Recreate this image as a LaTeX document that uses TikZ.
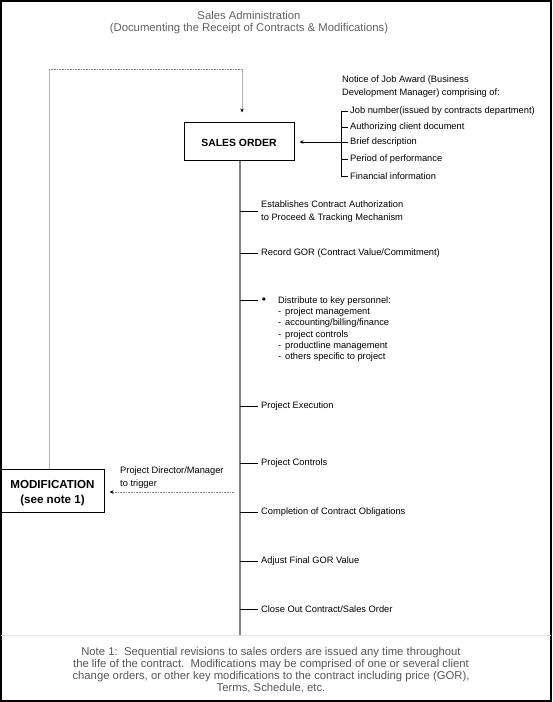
\documentclass[tikz,border=0pt]{standalone}
\usepackage{fontspec}
\setmainfont{Liberation Sans}
\usetikzlibrary{arrows.meta}
\definecolor{titlegray}{HTML}{606060}
\definecolor{notegray}{HTML}{555555}
\definecolor{spinegray}{HTML}{808080}
\definecolor{feedgray}{HTML}{B4B4B4}
\definecolor{sepgray}{HTML}{E4E4E4}
\tikzset{
  body/.style={inner sep=0pt, anchor=west, font=\fontsize{9.3}{13}\selectfont, align=left},
  listtext/.style={inner sep=0pt, anchor=north west, font=\fontsize{9.3}{11.2}\selectfont, align=left},
  bigbox/.style={draw=black, line width=1pt, inner sep=0pt},
  boxtext/.style={inner sep=0pt, align=center},
  tick/.style={draw=black, line width=0.8pt},
  spine/.style={draw=spinegray, line width=1.6pt},
  feed/.style={draw=feedgray, line width=1pt},
  dotline/.style={draw=spinegray, line width=0.8pt, dash pattern=on 0.8pt off 0.8pt},
  tip/.style={-{Stealth[black,length=4pt,width=3.6pt]}},
}
\begin{document}
\begin{tikzpicture}[x=1pt,y=-1pt]
\useasboundingbox (0,0) rectangle (552,702);
\draw[line width=2pt] (1,1) rectangle (551,701);

% title
\node[inner sep=0pt, align=center, text=titlegray, font=\fontsize{11.3}{12}\selectfont] (title) at (249,22.5)
  {Sales Administration\\(Documenting the Receipt of Contracts \& Modifications)};

% sales order box
\node[bigbox, minimum width=110pt, minimum height=38pt] (so) at (239,141) {};
\node[boxtext, font=\bfseries\fontsize{10.4}{12}\selectfont] (sotext) at ([yshift=-2pt]so.center) {SALES ORDER};

% notice text
\node[body] (notice) at (342,87) {Notice of Job Award (Business\\Development Manager) comprising of:};

% bracket items
\node[body] (b1) at (350,111) {Job number(issued by contracts department)};
\node[body] (b2) at (350,127) {Authorizing client document};
\node[body] (b3) at (350,142) {Brief description};
\node[body] (b4) at (350,159) {Period of performance};
\node[body] (b5) at (350,176) {Financial information};
\coordinate (bktop) at (341,111);
\coordinate (bkbot) at (341,176);
\draw[tick] ([xshift=-2pt]b1.west) -- (bktop) -- (bkbot) -- ([xshift=-2pt]b5.west);
\foreach \n in {b2,b3,b4} \draw[tick] ([xshift=-2pt]\n.west) -- (\n.west -| bktop);
\draw[tick, tip, shorten >=5pt] (b3.west -| bktop) -- (so.east |- b3.west);

% feedback loop
\node[bigbox, minimum width=103pt, minimum height=43pt] (mod) at (52.5,490.5) {};
\node[boxtext, font=\bfseries\fontsize{11.6}{14.5}\selectfont] (modtext) at ([yshift=-2.5pt]mod.center) {MODIFICATION\\(see note 1)};
\coordinate (c1) at (49,69);
\coordinate (c2) at (242,69);
\draw[feed] (mod.north -| c1) -- (c1);
\draw[dotline] (c1) -- (c2);
\draw[feed, tip, shorten >=9pt] (c2) -- (so.north -| c2);

% spine
\coordinate (spend) at (240,635);
\draw[spine] (so.south -| spend) -- (spend);

% steps
\node[body] (s1) at (261,211.5) {Establishes Contract Authorization\\to Proceed \& Tracking Mechanism};
\node[body] (s2) at (261,253) {Record GOR (Contract Value/Commitment)};
\node[inner sep=0pt, font=\fontsize{12}{12}\selectfont] (bul) at (264,301) {•};
\node[listtext] (s3) at (278,296.5) {Distribute to key personnel:\\
  \makebox[7pt][l]{-}project management\\
  \makebox[7pt][l]{-}accounting/billing/finance\\
  \makebox[7pt][l]{-}project controls\\
  \makebox[7pt][l]{-}productline management\\
  \makebox[7pt][l]{-}others specific to project};
\node[body] (s4) at (261,406) {Project Execution};
\node[body] (s5) at (261,463) {Project Controls};
\node[body] (s6) at (261,512) {Completion of Contract Obligations};
\node[body] (s7) at (261,561) {Adjust Final GOR Value};
\node[body] (s8) at (261,609) {Close Out Contract/Sales Order};
\foreach \n in {s1,s2,s4,s5,s6,s7,s8} \draw[tick] (\n.west -| spend) -- ([xshift=-3pt]\n.west);
\coordinate (bulpt) at (258,300);
\draw[tick] (bulpt -| spend) -- (bulpt);

% trigger
\node[body] (trig) at (120,477.5) {Project Director/Manager\\to trigger};
\coordinate (trs) at (234,492);
\draw[dotline, tip, shorten >=5pt] (trs) -- (mod.east |- trs);

% separator and note
\coordinate (sepl) at (1,635);
\coordinate (sepr) at (551,635);
\draw[draw=sepgray, line width=1pt] (sepl) -- (sepr);
\node[inner sep=0pt, align=center, text=notegray, font=\fontsize{11.3}{12}\selectfont] (note) at (271,670.5)
  {Note 1:\ \ Sequential revisions to sales orders are issued any time throughout\\
   the life of the contract.\ \ Modifications may be comprised of one or several client\\
   change orders, or other key modifications to the contract including price (GOR),\\
   Terms, Schedule, etc.};
\end{tikzpicture}
\end{document}
